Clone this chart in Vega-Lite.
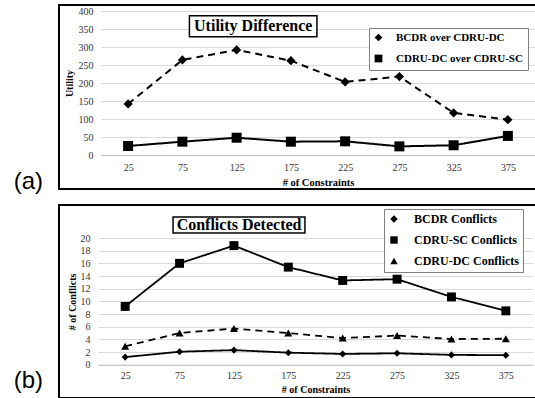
{
  "$schema": "https://vega.github.io/schema/vega-lite/v6.json",
  "background": "white",
  "padding": {"left": 12, "top": 4, "right": 0, "bottom": 0},
  "spacing": 9,
  "resolve": {
    "scale": {"strokeDash": "independent", "shape": "independent", "size": "independent"}
  },
  "config": {
    "view": {"stroke": "black", "strokeWidth": 2},
    "font": "Liberation Serif",
    "axis": {
      "labelFont": "Liberation Serif",
      "titleFont": "Liberation Serif",
      "labelColor": "#333333",
      "titleColor": "black",
      "titleFontWeight": "bold",
      "ticks": false,
      "labelFontSize": 10,
      "titleFontSize": 10
    },
    "legend": {
      "fillColor": "white",
      "strokeColor": "#808080",
      "labelFont": "Liberation Serif",
      "labelFontWeight": "bold",
      "labelColor": "black",
      "labelLimit": 300,
      "symbolOpacity": 1,
      "symbolStrokeColor": "black",
      "symbolFillColor": "black",
      "symbolStrokeWidth": 1.5
    },
    "title": {
      "orient": "left",
      "frame": "group",
      "angle": 0,
      "anchor": "start",
      "align": "right",
      "baseline": "bottom",
      "offset": 16,
      "font": "Liberation Sans",
      "fontSize": 24,
      "fontWeight": "normal",
      "color": "black"
    }
  },
  "datasets": {
    "utility": [
      {"constraints": 25, "series": "BCDR over CDRU-DC", "value": 142},
      {"constraints": 75, "series": "BCDR over CDRU-DC", "value": 264},
      {"constraints": 125, "series": "BCDR over CDRU-DC", "value": 292},
      {"constraints": 175, "series": "BCDR over CDRU-DC", "value": 262},
      {"constraints": 225, "series": "BCDR over CDRU-DC", "value": 203},
      {"constraints": 275, "series": "BCDR over CDRU-DC", "value": 218},
      {"constraints": 325, "series": "BCDR over CDRU-DC", "value": 117},
      {"constraints": 375, "series": "BCDR over CDRU-DC", "value": 98},
      {"constraints": 25, "series": "CDRU-DC over CDRU-SC", "value": 25},
      {"constraints": 75, "series": "CDRU-DC over CDRU-SC", "value": 37},
      {"constraints": 125, "series": "CDRU-DC over CDRU-SC", "value": 48},
      {"constraints": 175, "series": "CDRU-DC over CDRU-SC", "value": 37},
      {"constraints": 225, "series": "CDRU-DC over CDRU-SC", "value": 38},
      {"constraints": 275, "series": "CDRU-DC over CDRU-SC", "value": 24},
      {"constraints": 325, "series": "CDRU-DC over CDRU-SC", "value": 27},
      {"constraints": 375, "series": "CDRU-DC over CDRU-SC", "value": 53}
    ],
    "conflicts": [
      {"constraints": 25, "series": "BCDR Conflicts", "value": 1.2},
      {"constraints": 75, "series": "BCDR Conflicts", "value": 2.05},
      {"constraints": 125, "series": "BCDR Conflicts", "value": 2.3},
      {"constraints": 175, "series": "BCDR Conflicts", "value": 1.9},
      {"constraints": 225, "series": "BCDR Conflicts", "value": 1.7},
      {"constraints": 275, "series": "BCDR Conflicts", "value": 1.8},
      {"constraints": 325, "series": "BCDR Conflicts", "value": 1.55},
      {"constraints": 375, "series": "BCDR Conflicts", "value": 1.5},
      {"constraints": 25, "series": "CDRU-SC Conflicts", "value": 9.2},
      {"constraints": 75, "series": "CDRU-SC Conflicts", "value": 16},
      {"constraints": 125, "series": "CDRU-SC Conflicts", "value": 18.8},
      {"constraints": 175, "series": "CDRU-SC Conflicts", "value": 15.4},
      {"constraints": 225, "series": "CDRU-SC Conflicts", "value": 13.3},
      {"constraints": 275, "series": "CDRU-SC Conflicts", "value": 13.5},
      {"constraints": 325, "series": "CDRU-SC Conflicts", "value": 10.7},
      {"constraints": 375, "series": "CDRU-SC Conflicts", "value": 8.5},
      {"constraints": 25, "series": "CDRU-DC Conflicts", "value": 2.9},
      {"constraints": 75, "series": "CDRU-DC Conflicts", "value": 5.0},
      {"constraints": 125, "series": "CDRU-DC Conflicts", "value": 5.7},
      {"constraints": 175, "series": "CDRU-DC Conflicts", "value": 5.0},
      {"constraints": 225, "series": "CDRU-DC Conflicts", "value": 4.2},
      {"constraints": 275, "series": "CDRU-DC Conflicts", "value": 4.6},
      {"constraints": 325, "series": "CDRU-DC Conflicts", "value": 4.05},
      {"constraints": 375, "series": "CDRU-DC Conflicts", "value": 4.1}
    ],
    "one": [{"n": 1}]
  },
  "vconcat": [
    {
      "width": 479,
      "height": 184,
      "title": {"text": "(a)", "dy": -19},
      "layer": [
        {
          "data": {"name": "utility"},
          "mark": {"type": "line", "color": "black", "strokeWidth": 2},
          "encoding": {
            "x": {"field": "constraints", "type": "quantitative", "scale": {"domain": [0, 400], "range": [42, 476], "nice": false, "zero": false}, "axis": {"values": [25, 75, 125, 175, 225, 275, 325, 375], "grid": false, "offset": -34, "domainColor": "#bfbfbf", "labelPadding": 7, "title": "# of Constraints", "titlePadding": 5, "titleFontSize": 10.5}},
            "y": {"field": "value", "type": "quantitative", "scale": {"domain": [0, 400], "range": [150, 6], "nice": false}, "axis": {"values": [0, 50, 100, 150, 200, 250, 300, 350, 400], "grid": true, "gridColor": "#d9d9d9", "domain": false, "offset": -42, "labelPadding": 8, "title": "Utility", "titlePadding": 4}},
            "strokeDash": {"field": "series", "type": "nominal", "scale": {"range": [[7, 5], [1, 0]]}, "legend": null}
          }
        },
        {
          "data": {"name": "utility"},
          "mark": {"type": "point", "filled": true, "color": "black", "opacity": 1},
          "encoding": {
            "x": {"field": "constraints", "type": "quantitative", "scale": {"domain": [0, 400], "range": [42, 476], "nice": false, "zero": false}, "axis": {"values": [25, 75, 125, 175, 225, 275, 325, 375], "grid": false, "offset": -34, "domainColor": "#bfbfbf", "labelPadding": 7, "title": "# of Constraints", "titlePadding": 5, "titleFontSize": 10.5}},
            "y": {"field": "value", "type": "quantitative", "scale": {"domain": [0, 400], "range": [150, 6], "nice": false}, "axis": {"values": [0, 50, 100, 150, 200, 250, 300, 350, 400], "grid": true, "gridColor": "#d9d9d9", "domain": false, "offset": -42, "labelPadding": 8, "title": "Utility", "titlePadding": 4}},
            "size": {"field": "series", "type": "nominal", "scale": {"range": [85, 100]}, "legend": null},
            "shape": {
              "field": "series",
              "type": "nominal",
              "scale": {"domain": ["BCDR over CDRU-DC", "CDRU-DC over CDRU-SC"], "range": ["diamond", "square"]},
              "legend": {
                "title": null,
                "orient": "none",
                "legendX": 310,
                "legendY": 23,
                "padding": 4,
                "rowPadding": 6,
                "labelFontSize": 11,
                "symbolSize": 60,
                "labelOffset": 12
              }
            }
          }
        },
        {
          "data": {"name": "one"},
          "mark": {"type": "rect", "fill": "white", "stroke": "black", "strokeWidth": 1.5},
          "encoding": {
            "x": {"datum": 81.5, "type": "quantitative", "scale": {"domain": [0, 400], "range": [42, 476], "nice": false, "zero": false}, "axis": {"values": [25, 75, 125, 175, 225, 275, 325, 375], "grid": false, "offset": -34, "domainColor": "#bfbfbf", "labelPadding": 7, "title": "# of Constraints", "titlePadding": 5, "titleFontSize": 10.5}},
            "x2": {"datum": 199},
            "y": {"datum": 387, "type": "quantitative", "scale": {"domain": [0, 400], "range": [150, 6], "nice": false}, "axis": {"values": [0, 50, 100, 150, 200, 250, 300, 350, 400], "grid": true, "gridColor": "#d9d9d9", "domain": false, "offset": -42, "labelPadding": 8, "title": "Utility", "titlePadding": 4}},
            "y2": {"datum": 328.6}
          }
        },
        {
          "data": {"name": "one"},
          "mark": {"type": "text", "text": "Utility Difference", "font": "Liberation Serif", "fontWeight": "bold", "fontSize": 16, "color": "black"},
          "encoding": {
            "x": {"datum": 140.3, "type": "quantitative", "scale": {"domain": [0, 400], "range": [42, 476], "nice": false, "zero": false}, "axis": {"values": [25, 75, 125, 175, 225, 275, 325, 375], "grid": false, "offset": -34, "domainColor": "#bfbfbf", "labelPadding": 7, "title": "# of Constraints", "titlePadding": 5, "titleFontSize": 10.5}},
            "y": {"datum": 358, "type": "quantitative", "scale": {"domain": [0, 400], "range": [150, 6], "nice": false}, "axis": {"values": [0, 50, 100, 150, 200, 250, 300, 350, 400], "grid": true, "gridColor": "#d9d9d9", "domain": false, "offset": -42, "labelPadding": 8, "title": "Utility", "titlePadding": 4}}
          }
        }
      ]
    },
    {
      "width": 479,
      "height": 193,
      "title": {"text": "(b)", "dy": -29},
      "layer": [
        {
          "data": {"name": "conflicts"},
          "mark": {"type": "line", "color": "black", "strokeWidth": 1.8},
          "encoding": {
            "x": {"field": "constraints", "type": "quantitative", "scale": {"domain": [0, 400], "range": [39, 474], "nice": false, "zero": false}, "axis": {"values": [25, 75, 125, 175, 225, 275, 325, 375], "grid": false, "offset": -33.3, "domainColor": "#bfbfbf", "labelPadding": 6, "title": "# of Constraints", "titlePadding": 4}},
            "y": {"field": "value", "type": "quantitative", "scale": {"domain": [0, 20], "range": [159.7, 33], "nice": false}, "axis": {"values": [0, 2, 4, 6, 8, 10, 12, 14, 16, 18, 20], "grid": true, "gridColor": "#d9d9d9", "domain": false, "offset": -39, "labelPadding": 8, "title": "# of Conflicts", "titlePadding": 3}},
            "strokeDash": {"field": "series", "type": "nominal", "scale": {"range": [[1, 0], [7, 5], [1, 0]]}, "legend": null}
          }
        },
        {
          "data": {"name": "conflicts"},
          "mark": {"type": "point", "filled": true, "color": "black", "opacity": 1},
          "encoding": {
            "x": {"field": "constraints", "type": "quantitative", "scale": {"domain": [0, 400], "range": [39, 474], "nice": false, "zero": false}, "axis": {"values": [25, 75, 125, 175, 225, 275, 325, 375], "grid": false, "offset": -33.3, "domainColor": "#bfbfbf", "labelPadding": 6, "title": "# of Constraints", "titlePadding": 4}},
            "y": {"field": "value", "type": "quantitative", "scale": {"domain": [0, 20], "range": [159.7, 33], "nice": false}, "axis": {"values": [0, 2, 4, 6, 8, 10, 12, 14, 16, 18, 20], "grid": true, "gridColor": "#d9d9d9", "domain": false, "offset": -39, "labelPadding": 8, "title": "# of Conflicts", "titlePadding": 3}},
            "size": {"field": "series", "type": "nominal", "scale": {"range": [50, 80, 64]}, "legend": null},
            "shape": {
              "field": "series",
              "type": "nominal",
              "scale": {"domain": ["BCDR Conflicts", "CDRU-SC Conflicts", "CDRU-DC Conflicts"], "range": ["diamond", "square", "triangle-up"]},
              "legend": {
                "title": null,
                "orient": "none",
                "legendX": 325,
                "legendY": 4,
                "padding": 4,
                "rowPadding": 7,
                "labelFontSize": 12,
                "symbolSize": 55,
                "labelOffset": 14
              }
            }
          }
        },
        {
          "data": {"name": "one"},
          "mark": {"type": "rect", "fill": "white", "stroke": "black", "strokeWidth": 1.5},
          "encoding": {
            "x": {"datum": 69, "type": "quantitative", "scale": {"domain": [0, 400], "range": [39, 474], "nice": false, "zero": false}, "axis": {"values": [25, 75, 125, 175, 225, 275, 325, 375], "grid": false, "offset": -33.3, "domainColor": "#bfbfbf", "labelPadding": 6, "title": "# of Constraints", "titlePadding": 4}},
            "x2": {"datum": 190.3},
            "y": {"datum": 23.3, "type": "quantitative", "scale": {"domain": [0, 20], "range": [159.7, 33], "nice": false}, "axis": {"values": [0, 2, 4, 6, 8, 10, 12, 14, 16, 18, 20], "grid": true, "gridColor": "#d9d9d9", "domain": false, "offset": -39, "labelPadding": 8, "title": "# of Conflicts", "titlePadding": 3}},
            "y2": {"datum": 20.8}
          }
        },
        {
          "data": {"name": "one"},
          "mark": {"type": "text", "text": "Conflicts Detected", "font": "Liberation Serif", "fontWeight": "bold", "fontSize": 16, "color": "black"},
          "encoding": {
            "x": {"datum": 129.7, "type": "quantitative", "scale": {"domain": [0, 400], "range": [39, 474], "nice": false, "zero": false}, "axis": {"values": [25, 75, 125, 175, 225, 275, 325, 375], "grid": false, "offset": -33.3, "domainColor": "#bfbfbf", "labelPadding": 6, "title": "# of Constraints", "titlePadding": 4}},
            "y": {"datum": 22.05, "type": "quantitative", "scale": {"domain": [0, 20], "range": [159.7, 33], "nice": false}, "axis": {"values": [0, 2, 4, 6, 8, 10, 12, 14, 16, 18, 20], "grid": true, "gridColor": "#d9d9d9", "domain": false, "offset": -39, "labelPadding": 8, "title": "# of Conflicts", "titlePadding": 3}}
          }
        }
      ]
    }
  ]
}
